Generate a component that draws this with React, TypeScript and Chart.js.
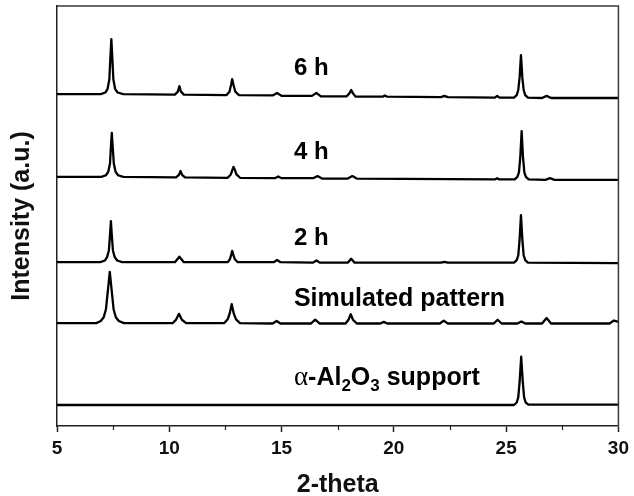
import { useEffect, useRef } from 'react';
import { Chart, registerables } from 'chart.js';

Chart.register(...registerables);

// 2-theta tick values (major) and minor tick values
const majorTicks = [5, 10, 15, 20, 25, 30];
const minorTicks = [7.5, 12.5, 17.5, 22.5, 27.5];

// Each trace: [2-theta, intensity (a.u., offset stacked)]
const trace6h: [number, number][] = [
  [5, 79.0], [6.95, 79.0], [7.15, 79.4], [7.25, 80.2], [7.33, 82.5], [7.38, 88], [7.42, 92.1], [7.46, 88], [7.51, 82.5], [7.59, 80.2], [7.7, 79.4], [7.95, 79.0],
  [10.25, 78.9], [10.38, 79.6], [10.45, 80.9], [10.52, 79.6], [10.65, 78.9],
  [12.55, 78.8], [12.68, 79.6], [12.75, 81.2], [12.8, 82.6], [12.86, 81.2], [12.94, 79.6], [13.1, 78.8],
  [14.6, 78.7], [14.8, 79.3], [15.0, 78.6],
  [16.35, 78.6], [16.55, 79.3], [16.75, 78.5],
  [17.9, 78.5], [18.02, 79.2], [18.1, 80.0], [18.18, 79.2], [18.3, 78.4],
  [19.5, 78.4], [19.6, 78.7], [19.7, 78.4],
  [22.1, 78.3], [22.25, 78.6], [22.4, 78.3],
  [24.5, 78.2], [24.6, 78.6], [24.7, 78.2],
  [25.35, 78.2], [25.47, 78.8], [25.54, 80.0], [25.6, 83.0], [25.66, 88.3], [25.72, 83.0], [25.78, 80.0], [25.85, 78.8], [25.97, 78.2],
  [26.6, 78.1], [26.8, 78.6], [27.0, 78.1], [30, 78.1],
];

const trace4h: [number, number][] = [
  [5, 59.3], [6.98, 59.3], [7.18, 59.7], [7.28, 60.5], [7.36, 62.5], [7.4, 66.5], [7.44, 69.8], [7.48, 66.5], [7.53, 62.5], [7.61, 60.5], [7.72, 59.7], [7.95, 59.3],
  [10.3, 59.2], [10.43, 59.8], [10.5, 60.7], [10.57, 59.8], [10.7, 59.2],
  [12.6, 59.1], [12.74, 59.9], [12.81, 61.0], [12.86, 61.7], [12.92, 61.0], [12.99, 59.9], [13.15, 59.1],
  [14.7, 59.0], [14.85, 59.4], [15.0, 59.0],
  [16.4, 59.0], [16.6, 59.5], [16.8, 58.9],
  [17.95, 58.9], [18.15, 59.5], [18.35, 58.9],
  [24.5, 58.7], [24.6, 59.0], [24.7, 58.7],
  [25.38, 58.7], [25.5, 59.3], [25.57, 60.4], [25.63, 64.0], [25.69, 70.2], [25.75, 64.0], [25.81, 60.4], [25.88, 59.3], [26.0, 58.7],
  [26.75, 58.6], [26.95, 59.0], [27.15, 58.6], [30, 58.6],
];

const trace2h: [number, number][] = [
  [5, 39.0], [6.93, 39.0], [7.13, 39.4], [7.23, 40.2], [7.31, 41.8], [7.36, 45.5], [7.4, 48.8], [7.44, 45.5], [7.49, 41.8], [7.57, 40.2], [7.68, 39.4], [7.9, 39.0],
  [10.25, 39.0], [10.45, 40.3], [10.65, 39.0],
  [12.6, 39.0], [12.7, 39.7], [12.76, 40.8], [12.8, 41.7], [12.85, 40.8], [12.92, 39.7], [13.05, 39.0],
  [14.65, 39.0], [14.8, 39.5], [14.95, 39.0],
  [16.4, 38.9], [16.55, 39.4], [16.7, 38.9],
  [17.95, 38.9], [18.1, 39.8], [18.25, 38.9],
  [22.1, 38.9], [22.25, 39.1], [22.4, 38.9],
  [25.35, 38.9], [25.47, 39.5], [25.54, 40.6], [25.6, 44.5], [25.66, 50.2], [25.72, 44.5], [25.78, 40.6], [25.85, 39.5], [25.97, 38.9],
  [30, 38.8],
];

const traceSim: [number, number][] = [
  [5, 24.5], [6.75, 24.5], [6.95, 25.0], [7.08, 25.9], [7.18, 27.8], [7.27, 32.5], [7.35, 36.7], [7.43, 32.5], [7.52, 27.8], [7.62, 25.9], [7.75, 25.0], [7.98, 24.5],
  [10.15, 24.5], [10.3, 25.3], [10.43, 26.7], [10.56, 25.3], [10.75, 24.5],
  [12.45, 24.5], [12.6, 25.4], [12.69, 26.8], [12.78, 29.0], [12.87, 26.8], [12.97, 25.4], [13.15, 24.5],
  [14.6, 24.4], [14.78, 25.0], [14.95, 24.4],
  [16.3, 24.4], [16.5, 25.3], [16.7, 24.4],
  [17.85, 24.4], [17.98, 25.3], [18.08, 26.6], [18.18, 25.3], [18.35, 24.4],
  [19.4, 24.4], [19.55, 24.8], [19.7, 24.4],
  [22.05, 24.4], [22.22, 25.1], [22.4, 24.4],
  [24.45, 24.4], [24.62, 25.3], [24.8, 24.4],
  [25.5, 24.4], [25.68, 24.9], [25.85, 24.4],
  [26.6, 24.4], [26.8, 25.7], [27.0, 24.4],
  [29.6, 24.4], [29.8, 25.1], [30, 24.8],
];

const traceAl2O3: [number, number][] = [
  [5, 5.0], [25.35, 5.0], [25.47, 5.6], [25.54, 6.8], [25.6, 10.5], [25.67, 16.5], [25.74, 10.5], [25.8, 6.8], [25.87, 5.6], [25.99, 5.1], [30, 5.1],
];

const seriesNames = ['6 h', '4 h', '2 h', 'Simulated pattern', 'α-Al2O3 support'];
const seriesData = [trace6h, trace4h, trace2h, traceSim, traceAl2O3];

// Label anchor (data coordinates): left x and text baseline y
const labelX = 15.55;
const labelBaselines = [83.6, 63.6, 43.1, 28.6, 9.8];

const SANS = "'Liberation Sans', Arial, sans-serif";

const framePlugin = {
  id: 'frameAndMinor',
  afterDraw(chart: any) {
    const { ctx, chartArea } = chart;
    const xs = chart.scales.x;
    ctx.save();
    ctx.strokeStyle = '#3a3a3a';
    ctx.lineWidth = 1.5;
    ctx.beginPath();
    ctx.moveTo(chartArea.left, chartArea.top);
    ctx.lineTo(chartArea.right, chartArea.top);
    ctx.lineTo(chartArea.right, chartArea.bottom);
    ctx.stroke();
    ctx.strokeStyle = '#222';
    ctx.lineWidth = 1.2;
    ctx.beginPath();
    for (const v of minorTicks) {
      const px = Math.round(xs.getPixelForValue(v)) + 0.5;
      ctx.moveTo(px, chartArea.bottom);
      ctx.lineTo(px, chartArea.bottom + 4);
    }
    ctx.stroke();
    ctx.restore();
  },
};

const labelPlugin = {
  id: 'traceLabels',
  afterDatasetsDraw(chart: any) {
    const { ctx } = chart;
    const xs = chart.scales.x;
    const ys = chart.scales.y;
    ctx.save();
    ctx.fillStyle = '#000';
    ctx.textBaseline = 'alphabetic';
    ctx.textAlign = 'left';
    seriesNames.forEach((name, i) => {
      const x0 = xs.getPixelForValue(labelX);
      const y0 = ys.getPixelForValue(labelBaselines[i]);
      if (i < 3) {
        ctx.font = `bold 24px ${SANS}`;
        ctx.fillText(name, x0, y0);
      } else if (i === 3) {
        ctx.font = `bold 25px ${SANS}`;
        ctx.fillText(name, x0, y0);
      } else {
        // α-Al2O3 support with subscripts
        let x = x0;
        const parts: [string, string, number][] = [
          ['α', "27px 'Liberation Serif', 'Times New Roman', serif", 0],
          ['-Al', `bold 25px ${SANS}`, 0],
          ['2', `bold 17px ${SANS}`, 6],
          ['O', `bold 25px ${SANS}`, 0],
          ['3', `bold 17px ${SANS}`, 6],
          [' support', `bold 25px ${SANS}`, 0],
        ];
        for (const [t, f, dy] of parts) {
          ctx.font = f;
          ctx.fillText(t, x, y0 + dy);
          x += ctx.measureText(t).width;
        }
      }
    });
    ctx.restore();
  },
};

export default function App() {
  const canvasRef = useRef<HTMLCanvasElement | null>(null);

  useEffect(() => {
    const canvas = canvasRef.current;
    if (!canvas) return;
    const chart = new Chart(canvas, {
      type: 'line',
      data: {
        datasets: seriesData.map((arr, i) => ({
          label: seriesNames[i],
          data: arr.map(([x, y]) => ({ x, y })),
          borderColor: '#000',
          borderWidth: 2.3,
          borderJoinStyle: 'round',
          pointRadius: 0,
          tension: 0,
          fill: false,
        })),
      },
      options: {
        responsive: false,
        animation: false,
        events: [],
        layout: { padding: { left: 0, right: 9, top: 6, bottom: 0 } },
        plugins: {
          legend: { display: false },
          tooltip: { enabled: false },
          title: { display: false },
        },
        scales: {
          x: {
            type: 'linear',
            min: 5,
            max: 30,
            afterBuildTicks: (s: any) => {
              s.ticks = majorTicks.map((v) => ({ value: v }));
            },
            ticks: {
              autoSkip: false,
              maxRotation: 0,
              padding: 5,
              color: '#111',
              font: { family: SANS, size: 19, weight: 'bold' },
            },
            grid: {
              display: true,
              drawOnChartArea: false,
              drawTicks: true,
              tickLength: 6,
              tickColor: '#222',
              tickWidth: 1.5,
            },
            border: { display: true, color: '#222', width: 1.5 },
            title: {
              display: true,
              text: '2-theta',
              color: '#111',
              padding: { top: 0, bottom: 0 },
              font: { family: SANS, size: 25, weight: 'bold', lineHeight: '22px' },
            },
            afterFit: (s: any) => {
              s.height = 70;
            },
          },
          y: {
            type: 'linear',
            min: 0,
            max: 100,
            ticks: { display: false },
            grid: { display: false, drawTicks: false },
            border: { display: true, color: '#222', width: 1.5 },
            title: {
              display: true,
              text: 'Intensity (a.u.)',
              color: '#111',
              padding: { top: 7, bottom: 0 },
              font: { family: SANS, size: 25, weight: 'bold', lineHeight: '30px' },
            },
            afterFit: (s: any) => {
              s.width = 57;
            },
          },
        },
      } as any,
      plugins: [framePlugin, labelPlugin],
    });
    return () => chart.destroy();
  }, []);

  return (
    <div style={{ position: 'absolute', left: 0, top: 0, width: 634, height: 496, background: '#fff' }}>
      <canvas ref={canvasRef} width={634} height={496} style={{ display: 'block', width: 634, height: 496 }} />
    </div>
  );
}
